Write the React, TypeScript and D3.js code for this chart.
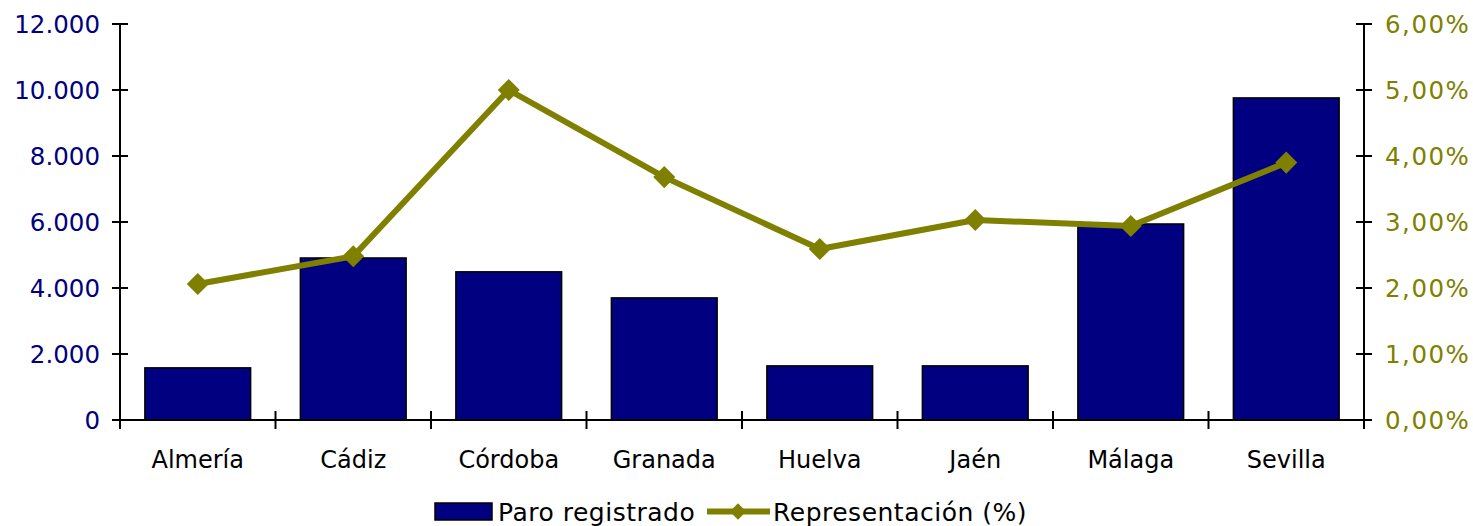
import React, { useEffect, useRef } from "react";
import * as d3 from "d3";

const provincias = ["Almería", "Cádiz", "Córdoba", "Granada", "Huelva", "Jaén", "Málaga", "Sevilla"];
const paroRegistrado = [1580, 4910, 4490, 3700, 1640, 1640, 5940, 9760];
const representacion = [2.06, 2.48, 5.0, 3.68, 2.59, 3.03, 2.94, 3.9];
const leftTicks = [0, 2000, 4000, 6000, 8000, 10000, 12000];
const rightTicks = [0, 1, 2, 3, 4, 5, 6];

const NAVY = "#000080";
const OLIVE = "#808000";
const FONT = "'DejaVu Sans', Verdana, sans-serif";

const App: React.FC = () => {
  const svgRef = useRef<SVGSVGElement | null>(null);

  useEffect(() => {
    const width = 1473;
    const height = 526;
    const margin = { top: 24, right: 109, bottom: 106, left: 120 };

    const svg = d3.select(svgRef.current);
    svg.selectAll("*").remove();
    svg.attr("width", width).attr("height", height);

    const x = d3
      .scaleBand()
      .domain(provincias)
      .range([margin.left, width - margin.right])
      .paddingInner(0.32)
      .paddingOuter(0.16);

    const yL = d3.scaleLinear().domain([0, 12000]).range([height - margin.bottom, margin.top]);
    const yR = d3.scaleLinear().domain([0, 6]).range([height - margin.bottom, margin.top]);

    const fmtL = (d: number) => (d === 0 ? "0" : d3.format(",")(d).replace(/,/g, "."));
    const fmtR = (d: number) => d.toFixed(2).replace(".", ",") + "%";

    // Bars
    svg
      .append("g")
      .selectAll("rect")
      .data(paroRegistrado)
      .join("rect")
      .attr("x", (_, i) => x(provincias[i])!)
      .attr("y", d => yL(d))
      .attr("width", x.bandwidth())
      .attr("height", d => yL(0) - yL(d))
      .attr("fill", NAVY)
      .attr("stroke", "#000")
      .attr("stroke-width", 1.5);

    // X axis (ticks between categories)
    const x0 = margin.left;
    const x1 = width - margin.right;
    const step = (x1 - x0) / provincias.length;
    const axisY = yL(0);
    const ax = svg.append("g");
    ax.append("line")
      .attr("x1", x0 - 8).attr("x2", x1 + 8)
      .attr("y1", axisY).attr("y2", axisY)
      .attr("stroke", "#000").attr("stroke-width", 2);
    d3.range(provincias.length + 1).forEach(i => {
      ax.append("line")
        .attr("x1", x0 + i * step).attr("x2", x0 + i * step)
        .attr("y1", axisY - 9).attr("y2", axisY + 9)
        .attr("stroke", "#000").attr("stroke-width", 2);
    });
    ax.selectAll("text")
      .data(provincias)
      .join("text")
      .attr("x", d => x(d)! + x.bandwidth() / 2)
      .attr("y", axisY + 48)
      .attr("text-anchor", "middle")
      .attr("font-family", FONT)
      .attr("font-size", 24)
      .attr("fill", "#000")
      .text(d => d);

    // Left axis
    const gl = svg.append("g").attr("transform", `translate(${x0},0)`);
    gl.append("line")
      .attr("y1", yL(12000)).attr("y2", yL(0) + 9)
      .attr("stroke", "#000").attr("stroke-width", 2);
    leftTicks.forEach(t => {
      gl.append("line")
        .attr("x1", -8).attr("x2", 8)
        .attr("y1", yL(t)).attr("y2", yL(t))
        .attr("stroke", "#000").attr("stroke-width", 2);
      gl.append("text")
        .attr("x", -20)
        .attr("y", yL(t))
        .attr("dy", "0.36em")
        .attr("text-anchor", "end")
        .attr("font-family", FONT)
        .attr("font-size", 24.5)
        .attr("fill", NAVY)
        .text(fmtL(t));
    });

    // Right axis
    const gr = svg.append("g").attr("transform", `translate(${x1},0)`);
    gr.append("line")
      .attr("y1", yR(6)).attr("y2", yR(0) + 9)
      .attr("stroke", "#000").attr("stroke-width", 2);
    rightTicks.forEach(t => {
      gr.append("line")
        .attr("x1", -8).attr("x2", 8)
        .attr("y1", yR(t)).attr("y2", yR(t))
        .attr("stroke", "#000").attr("stroke-width", 2);
      gr.append("text")
        .attr("x", 21)
        .attr("y", yR(t))
        .attr("dy", "0.36em")
        .attr("text-anchor", "start")
        .attr("font-family", FONT)
        .attr("font-size", 24.5)
        .attr("letter-spacing", 1.5)
        .attr("fill", OLIVE)
        .text(fmtR(t));
    });

    // Line series
    const line = d3
      .line<number>()
      .x((_, i) => x(provincias[i])! + x.bandwidth() / 2)
      .y(d => yR(d));
    svg.append("path")
      .datum(representacion)
      .attr("d", line)
      .attr("fill", "none")
      .attr("stroke", OLIVE)
      .attr("stroke-width", 6)
      .attr("stroke-linejoin", "round");

    const diamond = d3.symbol().type(d3.symbolDiamond2).size(310);
    svg.append("g")
      .selectAll("path")
      .data(representacion)
      .join("path")
      .attr("d", diamond)
      .attr("transform", (d, i) => `translate(${x(provincias[i])! + x.bandwidth() / 2},${yR(d)})`)
      .attr("fill", OLIVE);

    // Legend
    const lg = svg.append("g").attr("transform", `translate(0,511.5)`);
    lg.append("rect")
      .attr("x", 435).attr("y", -8.5)
      .attr("width", 57).attr("height", 17)
      .attr("fill", NAVY).attr("stroke", "#000").attr("stroke-width", 1.5);
    lg.append("text")
      .attr("x", 498).attr("y", 0).attr("dy", "0.36em")
      .attr("font-family", FONT).attr("font-size", 25).attr("letter-spacing", 0.5).attr("fill", "#000")
      .text("Paro registrado");
    lg.append("line")
      .attr("x1", 707).attr("x2", 770)
      .attr("y1", 0).attr("y2", 0)
      .attr("stroke", OLIVE).attr("stroke-width", 6);
    lg.append("path")
      .attr("d", d3.symbol().type(d3.symbolDiamond2).size(170)())
      .attr("transform", "translate(738,0)")
      .attr("fill", OLIVE);
    lg.append("text")
      .attr("x", 773).attr("y", 0).attr("dy", "0.36em")
      .attr("font-family", FONT).attr("font-size", 25).attr("letter-spacing", 0.5).attr("fill", "#000")
      .text("Representación (%)");
  }, []);

  return (
    <svg
      ref={svgRef}
      style={{ position: "absolute", left: 0, top: 0, display: "block", background: "#fff" }}
    />
  );
};

export default App;
